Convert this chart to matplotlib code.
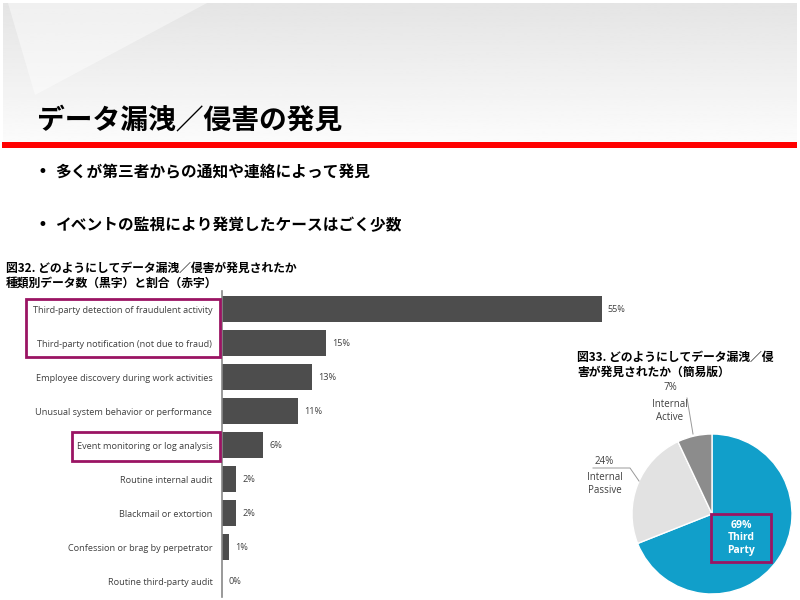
import numpy as np
import matplotlib.pyplot as plt
from matplotlib.patches import Rectangle, Polygon

plt.rcParams['font.family'] = ['Noto Sans CJK JP', 'DejaVu Sans']

# データ
categories = [
    "Third-party detection of fraudulent activity",
    "Third-party notification (not due to fraud)",
    "Employee discovery during work activities",
    "Unusual system behavior or performance",
    "Event monitoring or log analysis",
    "Routine internal audit",
    "Blackmail or extortion",
    "Confession or brag by perpetrator",
    "Routine third-party audit",
]
percents = [55, 15, 13, 11, 6, 2, 2, 1, 0]

pie_labels = ["Third\nParty", "Internal\nPassive", "Internal\nActive"]
pie_values = [69, 24, 7]
pie_colors = ["#119fca", "#e2e2e2", "#8c8c8c"]

title = "データ漏洩／侵害の発見"
bullets = ["多くが第三者からの通知や連絡によって発見",
           "イベントの監視により発覚したケースはごく少数"]
fig32 = "図32. どのようにしてデータ漏洩／侵害が発見されたか\n種類別データ数（黒字）と割合（赤字）"
fig33 = "図33. どのようにしてデータ漏洩／侵\n害が発見されたか（簡易版）"

W, H = 800, 600
fig = plt.figure(figsize=(8, 6), dpi=100)


def pixel_axes():
    a = fig.add_axes([0, 0, 1, 1])
    a.set_xlim(0, W)
    a.set_ylim(H, 0)
    a.axis('off')
    a.patch.set_alpha(0)
    return a


# 背景 (ピクセル座標)
bg = pixel_axes()
grad = np.linspace(0.895, 0.985, 100).reshape(-1, 1)
bg.imshow(grad, cmap='gray', vmin=0, vmax=1, extent=[3, 797, 142, 3],
          aspect='auto', zorder=0)
bg.add_patch(Polygon([(8, 3), (207, 3), (35, 95)], closed=True,
                     color='white', alpha=0.45, lw=0, zorder=1))
bg.add_patch(Rectangle((2, 142), 795, 6, color='#ff0000', lw=0, zorder=2))

bg.text(37, 120, title, fontsize=20, fontweight='bold', va='center', ha='left')
for y, b in zip([172, 225], bullets):
    bg.text(38, y, "•", fontsize=12, va='center', ha='left', family='DejaVu Sans')
    bg.text(55, y, b, fontsize=11.3, fontweight='bold', va='center', ha='left')
bg.text(6, 276, fig32, fontsize=8.5, fontweight='bold', va='center', ha='left',
        linespacing=1.15)
bg.text(577, 365, fig33, fontsize=8.5, fontweight='bold', va='center', ha='left',
        linespacing=1.15)

# 棒グラフ
ax = fig.add_axes([222 / W, 1 - 597 / H, 414 / W, 306 / H])
y = np.arange(len(categories))
ax.barh(y, percents, height=0.77, color='#4d4d4d')
ax.set_xlim(0, 60)
ax.set_ylim(8.47, -0.53)
for s in ['top', 'right', 'bottom']:
    ax.spines[s].set_visible(False)
ax.spines['left'].set_color('#888888')
ax.spines['left'].set_linewidth(1.2)
ax.set_xticks([])
ax.set_yticks(y)
ax.set_yticklabels(categories, fontsize=6.6, color='#404040', family='Open Sans')
ax.tick_params(axis='y', length=0, pad=7)
ax.patch.set_alpha(0)
for yi, p in zip(y, percents):
    ax.text(p + 0.9, yi, f"{p}%", fontsize=6.6, color='#404040',
            va='center', ha='left', family='Open Sans')

# 円グラフ
pax = fig.add_axes([(712 - 80) / W, 1 - (514 + 80) / H, 160 / W, 160 / H])
pax.pie(pie_values, colors=pie_colors, startangle=90, counterclock=False,
        wedgeprops=dict(edgecolor='white', linewidth=1))
pax.set_xlim(-1, 1)
pax.set_ylim(-1, 1)
pax.set_aspect('equal')

# 前面 (ラベル・強調枠)
ov = pixel_axes()
lab = dict(fontsize=7, color='#404040', ha='center', family='Open Sans')
ov.text(741, 538, f"{pie_values[0]}%\n{pie_labels[0]}", fontsize=7.5,
        fontweight='bold', color='white', ha='center', va='center',
        family='Open Sans', linespacing=1.25)
ov.text(604, 462, f"{pie_values[1]}%", va='center', **lab)
ov.text(605, 484, pie_labels[1], va='center', linespacing=1.3, **lab)
ov.plot([593, 630, 639], [468, 468, 481], color='#999999', lw=0.7)
ov.text(670, 388, f"{pie_values[2]}%", va='center', **lab)
ov.text(670, 411, pie_labels[2], va='center', linespacing=1.3, **lab)
ov.plot([687, 693], [398, 434], color='#999999', lw=0.7)

box = dict(fill=False, edgecolor='#9a1463', lw=2)
ov.add_patch(Rectangle((26, 299), 194, 58, **box))
ov.add_patch(Rectangle((72, 432), 148, 29, **box))
ov.add_patch(Rectangle((711, 514), 60, 48, **box))

fig.savefig('out.png', dpi=100)
